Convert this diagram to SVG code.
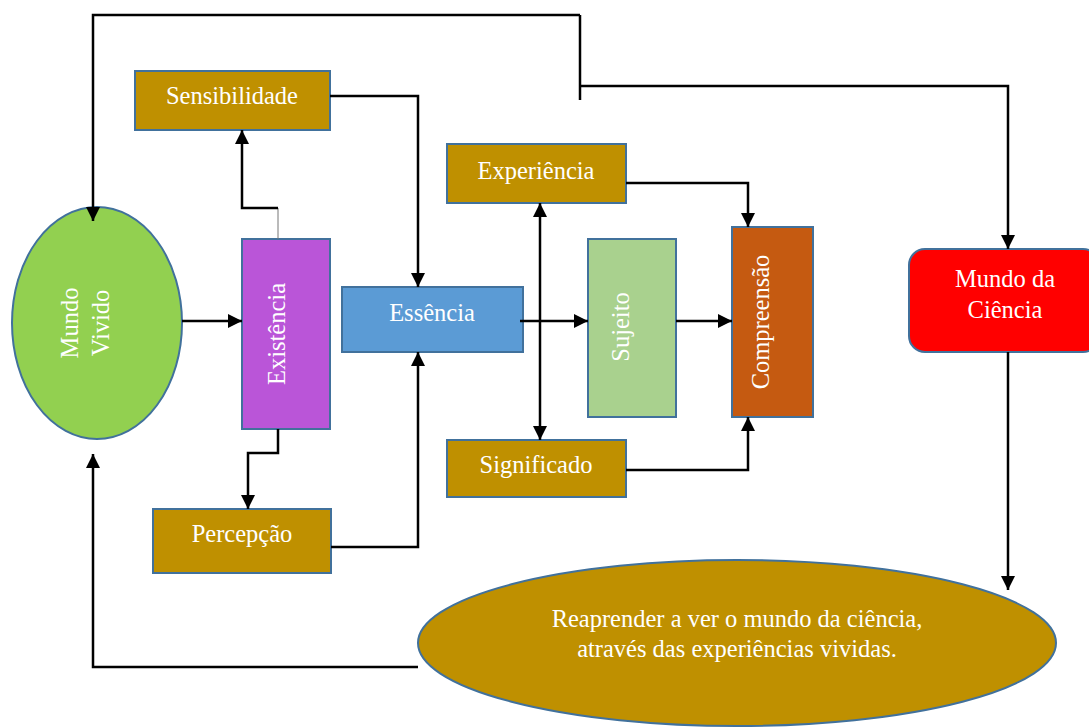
<svg xmlns="http://www.w3.org/2000/svg" width="1089" height="727" viewBox="0 0 1089 727">
<defs>
<marker id="ah" markerUnits="userSpaceOnUse" markerWidth="16" markerHeight="16" viewBox="0 0 16 16" refX="14" refY="8" orient="auto-start-reverse">
<path d="M0,1 L14,8 L0,15 Z" fill="#000"/>
</marker>
<style>
.n{stroke:#41719C;stroke-width:2}
.t{font-family:"Liberation Serif","Times New Roman",serif;font-size:24.5px;fill:#fff;text-anchor:middle}
.c{fill:none;stroke:#000;stroke-width:2.5}
.a{marker-end:url(#ah)}
</style>
</defs>
<rect width="1089" height="727" fill="#fff"/>
<g id="mundo-vivido">
<ellipse class="n" cx="97" cy="323" rx="85" ry="116" fill="#92D050"/>
<text class="t" transform="translate(78,323) rotate(-90)" x="0" y="0">Mundo</text>
<text class="t" transform="translate(109,323) rotate(-90)" x="0" y="0">Vivido</text>
</g>
<g id="sensibilidade">
<rect class="n" x="135" y="71" width="195" height="59" fill="#BF9000"/>
<text class="t" x="232" y="104">Sensibilidade</text>
</g>
<g id="existencia">
<rect class="n" x="242" y="239" width="88" height="190" fill="#BA55D8"/>
<text class="t" transform="translate(285,334) rotate(-90)">Existência</text>
</g>
<g id="percepcao">
<rect class="n" x="153" y="509" width="178" height="64" fill="#BF9000"/>
<text class="t" x="242" y="542">Percepção</text>
</g>
<g id="essencia">
<rect class="n" x="342" y="287" width="181" height="65" fill="#5B9BD5"/>
<text class="t" x="432" y="321">Essência</text>
</g>
<g id="experiencia">
<rect class="n" x="447" y="144" width="179" height="59" fill="#BF9000"/>
<text class="t" x="536" y="179">Experiência</text>
</g>
<g id="significado">
<rect class="n" x="447" y="440" width="179" height="57" fill="#BF9000"/>
<text class="t" x="536" y="473">Significado</text>
</g>
<g id="sujeito">
<rect class="n" x="588" y="239" width="88" height="178" fill="#A9D18E"/>
<text class="t" transform="translate(629,327) rotate(-90)">Sujeito</text>
</g>
<g id="compreensao">
<rect class="n" x="732" y="227" width="81" height="190" fill="#C55A11"/>
<text class="t" transform="translate(769,322) rotate(-90)">Compreensão</text>
</g>
<g id="mundo-da-ciencia">
<rect class="n" x="909" y="249" width="190" height="103" rx="16" fill="#FF0000"/>
<text class="t" x="1005" y="287">Mundo da</text>
<text class="t" x="1005" y="318">Ciência</text>
</g>
<g id="reaprender">
<ellipse class="n" cx="737" cy="643" rx="319" ry="83" fill="#BF9000"/>
<text class="t" x="737" y="627">Reaprender a ver o mundo da ciência,</text>
<text class="t" x="737" y="657">através das experiências vividas.</text>
</g>
<g id="connectors">
<path class="c a" d="M580,15 L93,15 L93,221"/>
<path class="c" d="M580,15 L580,100"/>
<path class="c a" d="M580,86 L1008,86 L1008,249"/>
<path class="c a" d="M330,96 L418,96 L418,287"/>
<path class="c a" d="M182,321 L242,321"/>
<path d="M278,239 L278,208" fill="none" stroke="#777" stroke-width="1"/>
<path class="c a" d="M278,208 L242,208 L242,130"/>
<path class="c a" d="M278,429 L278,453 L248,453 L248,509"/>
<path class="c a" d="M331,547 L418,547 L418,352"/>
<path class="c a" d="M418,667 L93,667 L93,454"/>
<path class="c a" d="M540,203 L540,440" marker-start="url(#ah)"/>
<path class="c a" d="M520,321 L588,321"/>
<path class="c a" d="M676,321 L732,321"/>
<path class="c a" d="M626,183 L748,183 L748,227"/>
<path class="c a" d="M626,470 L748,470 L748,417"/>
<path class="c a" d="M1008,352 L1008,590"/>
</g>
</svg>
